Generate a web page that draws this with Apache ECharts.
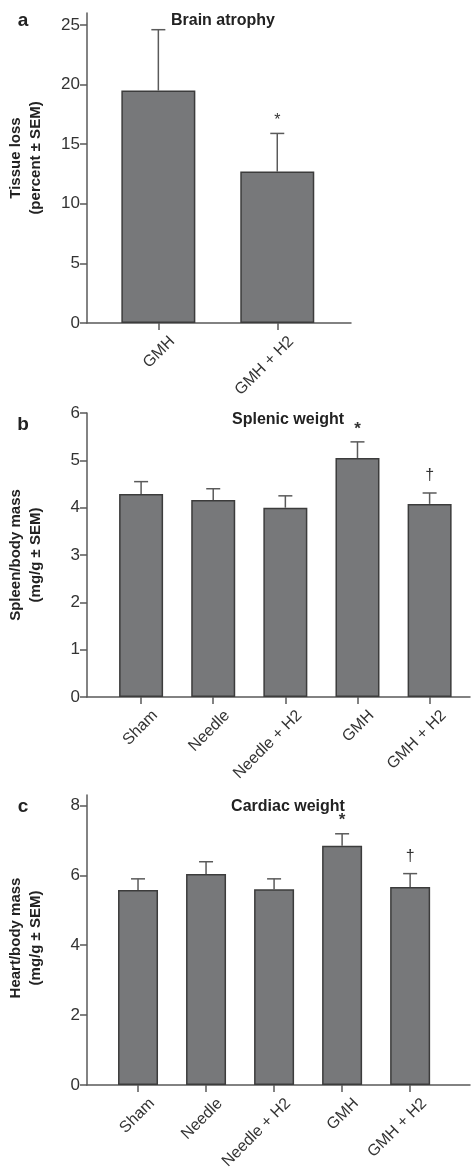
<!DOCTYPE html>
<html>
<head>
<meta charset="utf-8">
<script src="https://cdn.jsdelivr.net/npm/echarts@6/dist/echarts.min.js"></script>
<style>
  html, body { margin: 0; padding: 0; background: #fff; }
  #chart { width: 471px; height: 1167px; }
</style>
</head>
<body>
<div id="chart"></div>
<script>
// Three bar panels (brain atrophy, splenic weight, cardiac weight), mean + SEM whiskers.
var FONT = "'Liberation Sans', Arial, Helvetica, sans-serif";

// panel a
var brainGroups = ["GMH", "GMH + H2"];
var brainMean = [19.5, 12.7];
var brainSem = [5.1, 3.2];
var brainSig = ["", "*"];
var brainTicks = [0, 5, 10, 15, 20, 25];

// panel b
var organGroups = ["Sham", "Needle", "Needle + H2", "GMH", "GMH + H2"];
var spleenMean = [4.29, 4.16, 4.0, 5.05, 4.08];
var spleenSem = [0.26, 0.24, 0.25, 0.34, 0.23];
var spleenSig = ["", "", "", "*", "\u2020"];
var spleenTicks = [0, 1, 2, 3, 4, 5, 6];

// panel c
var heartMean = [5.58, 6.04, 5.6, 6.85, 5.67];
var heartSem = [0.32, 0.35, 0.3, 0.34, 0.38];
var heartSig = ["", "", "", "*", "\u2020"];
var heartTicks = [0, 2, 4, 6, 8];

var AXIS = "#5a5a5a", BAR = "#77787a", EDGE = "#3c3c3c", TXT = "#333";
var LABEL_SHIFT = 14; // px: rotated x labels sit a little right of their ticks

function idx(arr) { return arr.map(function (_, i) { return i; }); }

function barData(mean) { return mean.map(function (v, i) { return [i, v]; }); }
function errData(mean, sem) {
  return mean.map(function (v, i) { return [i, v, v + sem[i]]; });
}

var errSig = {};
function errItem(boldStar) {
  return function (params, api) {
    var x = api.value(0);
    var p0 = api.coord([x, api.value(1)]);
    var p1 = api.coord([x, api.value(2)]);
    var sig = errSig[params.seriesIndex][params.dataIndex];
    var st = { stroke: AXIS, lineWidth: 1.5 };
    var kids = [
      { type: "line", shape: { x1: p0[0], y1: p0[1], x2: p1[0], y2: p1[1] }, style: st },
      { type: "line", shape: { x1: p1[0] - 7, y1: p1[1], x2: p1[0] + 7, y2: p1[1] }, style: st }
    ];
    if (sig) {
      var bold = sig === "*" && boldStar;
      kids.push({ type: "text", x: p1[0], y: p1[1] - (sig === "*" ? 13 : 17),
        style: { text: sig, align: "center", verticalAlign: "middle", fill: TXT,
          font: (bold ? "bold 17px " : "16px ") + FONT } });
    }
    return { type: "group", children: kids };
  };
}

function xAxis(grid, groups, min, max, width) {
  var dx = LABEL_SHIFT * (max - min) / width;
  return {
    type: "value", gridIndex: grid, min: min, max: max,
    splitLine: { show: false },
    axisLine: { onZero: false, lineStyle: { color: AXIS, width: 1.5 } },
    axisTick: { customValues: idx(groups), length: 7, lineStyle: { color: AXIS, width: 1.5 } },
    axisLabel: { customValues: idx(groups).map(function (i) { return i + dx; }),
      rotate: 45, margin: 16, showMinLabel: true, showMaxLabel: true, hideOverlap: false,
      color: TXT, fontFamily: FONT, fontSize: 16,
      formatter: function (v) { return groups[Math.round(v)] || ""; } }
  };
}

function yAxis(grid, ticks, max, name, shiftUp) {
  return {
    type: "value", gridIndex: grid, min: 0, max: max,
    splitLine: { show: false },
    axisLine: { show: true, onZero: false, lineStyle: { color: AXIS, width: 1.5 } },
    axisTick: { show: true, customValues: ticks, length: 7, lineStyle: { color: AXIS, width: 1.5 } },
    axisLabel: { customValues: ticks, margin: 7, showMinLabel: true, showMaxLabel: true,
      color: TXT, fontFamily: FONT, fontSize: 17 },
    name: name, nameLocation: "middle", nameGap: 41,
    nameTextStyle: { color: "#222", fontFamily: FONT, fontSize: 15, fontWeight: "bold",
      lineHeight: 20, padding: [0, 0, 0, shiftUp * 2] }
  };
}

function title(text, x, y, size) {
  return { text: text, left: x, top: y, textAlign: "center",
    textStyle: { color: "#222", fontFamily: FONT, fontSize: size || 16, fontWeight: "bold" } };
}

var option = {
  animation: false,
  backgroundColor: "#fff",
  title: [
    title("a", 18, 6, 19), title("Brain atrophy", 218, 8),
    title("b", 18, 410, 19), title("Splenic weight", 283, 407),
    title("c", 18, 792, 19), title("Cardiac weight", 283, 794)
  ],
  grid: [
    { left: 87, top: 13, width: 264, height: 310, outerBoundsMode: "none", containLabel: false },
    { left: 87, top: 413, width: 383, height: 284, outerBoundsMode: "none", containLabel: false },
    { left: 87, top: 795, width: 383, height: 290, outerBoundsMode: "none", containLabel: false }
  ],
  xAxis: [
    xAxis(0, brainGroups, -0.6, 1.62, 264),
    xAxis(1, organGroups, -0.75, 4.56, 383),
    xAxis(2, organGroups, -0.75, 4.88, 383)
  ],
  yAxis: [
    yAxis(0, brainTicks, 26, "Tissue loss\n(percent \u00b1 SEM)", 10),
    yAxis(1, spleenTicks, 6, "Spleen/body mass\n(mg/g \u00b1 SEM)", 0),
    yAxis(2, heartTicks, 8.3, "Heart/body mass\n(mg/g \u00b1 SEM)", 2)
  ],
  series: [
    { type: "bar", xAxisIndex: 0, yAxisIndex: 0, barWidth: 74, data: barData(brainMean),
      itemStyle: { color: BAR, borderColor: EDGE, borderWidth: 1.5 } },
    { type: "bar", xAxisIndex: 1, yAxisIndex: 1, barWidth: 44, data: barData(spleenMean),
      itemStyle: { color: BAR, borderColor: EDGE, borderWidth: 1.5 } },
    { type: "bar", xAxisIndex: 2, yAxisIndex: 2, barWidth: 40, data: barData(heartMean),
      itemStyle: { color: BAR, borderColor: EDGE, borderWidth: 1.5 } },
    { type: "custom", xAxisIndex: 0, yAxisIndex: 0, renderItem: errItem(false),
      data: errData(brainMean, brainSem), z: 1 },
    { type: "custom", xAxisIndex: 1, yAxisIndex: 1, renderItem: errItem(true),
      data: errData(spleenMean, spleenSem), z: 1 },
    { type: "custom", xAxisIndex: 2, yAxisIndex: 2, renderItem: errItem(true),
      data: errData(heartMean, heartSem), z: 1 }
  ]
};
errSig[3] = brainSig; errSig[4] = spleenSig; errSig[5] = heartSig;

var chart = echarts.init(document.getElementById("chart"), null, { renderer: "canvas" });
chart.setOption(option);
</script>
</body>
</html>
